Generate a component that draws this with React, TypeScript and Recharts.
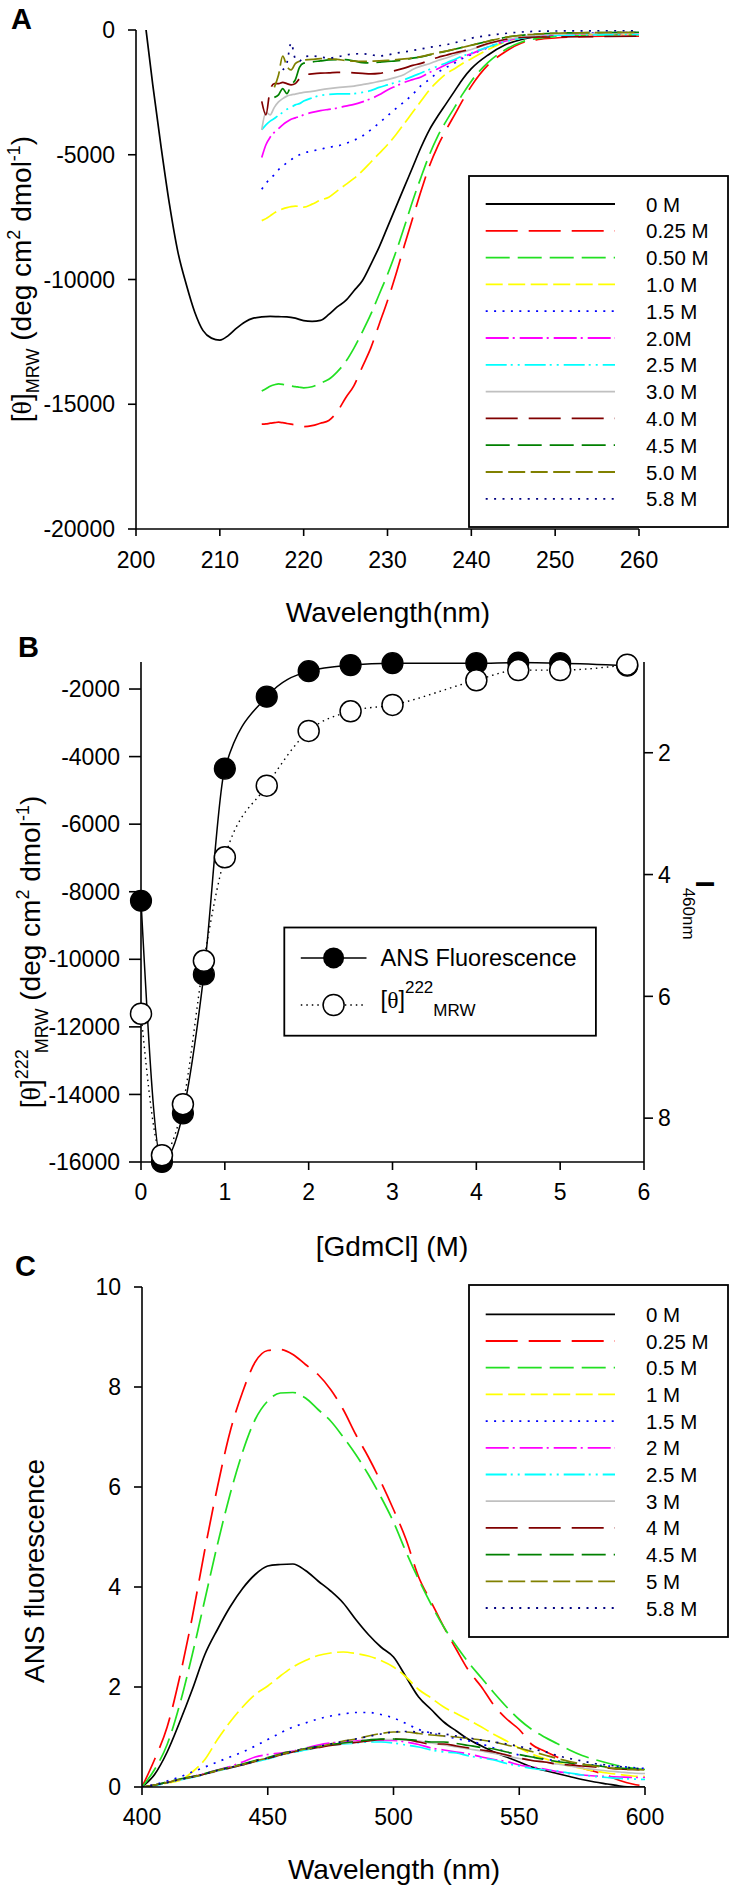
import { LineChart, Line, XAxis, YAxis, Label } from "recharts";

const FONT = "'Liberation Sans', Arial, Helvetica, sans-serif";
const SERIF = "'Liberation Serif', 'Times New Roman', serif";

// shared series styles (panels A and C)
const seriesColors = [
  "#000000", "#ff0000", "#22e022", "#ffff00", "#0000ff", "#ff00ff",
  "#00ffff", "#c0c0c0", "#800000", "#008000", "#808000", "#000080",
];
const seriesDash = [
  undefined, "32 11", "24 8", "17 5.5", "2 6.4", "23 4 2 5",
  "21 4 2 5 2 5", undefined, "32 11", "24 8", "17 5.5", "2 6.4",
];
const cdLabels = ["0 M", "0.25 M", "0.50 M", "1.0 M", "1.5 M", "2.0M", "2.5 M", "3.0 M", "4.0 M", "4.5 M", "5.0 M", "5.8 M"];
const flLabels = ["0 M", "0.25 M", "0.5 M", "1 M", "1.5 M", "2 M", "2.5 M", "3 M", "4 M", "4.5 M", "5 M", "5.8 M"];

// ---------- panel A: far-UV CD spectra
const wlCD0 = [201.2, 202, 203, 204, 205, 206, 207, 208, 209, 210, 211, 212, 213, 214, 215, 216, 217, 218, 219, 220,
  221, 222, 223, 224, 225, 226, 227, 228, 229, 230, 231, 232, 233, 234, 235, 236, 237, 238, 239, 240,
  242, 244, 246, 248, 250, 253, 256, 260];
const cd0 = [0, -2200, -4700, -7000, -8900, -10200, -11300, -12050, -12350, -12430, -12250, -11950, -11700, -11550, -11500, -11480, -11490, -11500, -11550, -11650,
  -11680, -11640, -11400, -11100, -10850, -10450, -10050, -9400, -8700, -7900, -7100, -6300, -5500, -4700, -4000, -3450, -2950, -2450, -1950, -1550,
  -1000, -600, -380, -260, -190, -160, -140, -130];

const wlCD = [215, 215.5, 216, 216.5, 217, 217.5, 218, 218.5, 219, 219.5, 220,
  221, 222, 223, 224, 225, 226, 227, 228, 229, 230, 231, 232, 233, 234, 235, 236, 237, 238, 239, 240,
  242, 244, 246, 248, 250, 253, 256, 260];
const cd025 = [-15800, -15790, -15760, -15740, -15720, -15740, -15770, -15800, -15830, -15870, -15900,
  -15860, -15760, -15650, -15300, -14750, -14250, -13500, -12750, -11800, -10850, -9800, -8650, -7550, -6450, -5450, -4650, -4000, -3400, -2800, -2250,
  -1400, -880, -520, -380, -320, -270, -250, -250];
const cd050 = [-14470, -14380, -14280, -14220, -14180, -14200, -14240, -14270, -14290, -14320, -14340,
  -14300, -14150, -14000, -13700, -13300, -12750, -12100, -11400, -10600, -9800, -8900, -7900, -6850, -5900, -5000, -4250, -3650, -3100, -2550, -2050,
  -1300, -800, -480, -330, -260, -220, -200, -190];
const cd1 = [-7640, -7560, -7450, -7330, -7230, -7170, -7120, -7080, -7060, -7070, -7100,
  -6980, -6820, -6700, -6450, -6200, -5950, -5650, -5300, -4950, -4600, -4200, -3750, -3300, -2850, -2400, -2050, -1750, -1550, -1330, -1150,
  -780, -480, -320, -230, -190, -160, -150, -140];
const cd15 = [-6380, -6150, -5950, -5800, -5600, -5450, -5320, -5200, -5080, -5000, -4930,
  -4850, -4780, -4700, -4650, -4550, -4420, -4250, -4000, -3730, -3440, -3150, -2880, -2580, -2230, -1980, -1700, -1500, -1320, -1130, -980,
  -700, -460, -300, -220, -170, -130, -110, -100];
const cd2 = [-5110, -4600, -4300, -4100, -3950, -3800, -3680, -3580, -3520, -3470, -3400,
  -3300, -3230, -3180, -3130, -3050, -2980, -2880, -2760, -2600, -2400, -2250, -2100, -1990, -1880, -1700, -1550, -1380, -1240, -1080, -950,
  -680, -450, -300, -220, -180, -150, -140, -130];
const cd25 = [-4000, -3800, -3650, -3550, -3420, -3300, -3180, -3100, -3000, -2950, -2850,
  -2720, -2620, -2580, -2560, -2560, -2550, -2500, -2430, -2300, -2200, -2100, -1990, -1860, -1720, -1580, -1450, -1320, -1180, -1040, -920,
  -680, -470, -330, -260, -220, -200, -190, -180];
const cd3 = [-4000, -3300, -3400, -3100, -2880, -2750, -2650, -2600, -2570, -2530, -2500,
  -2460, -2400, -2350, -2310, -2280, -2250, -2190, -2130, -2060, -1990, -1900, -1780, -1580, -1450, -1350, -1220, -1120, -1000, -880, -780,
  -570, -400, -280, -210, -170, -140, -130, -120];
const cd4 = [-2860, -3400, -2400, -2150, -2150, -2100, -2150, -2200, -2150, -1950, -1800,
  -1760, -1730, -1720, -1700, -1700, -1720, -1740, -1760, -1740, -1680, -1620, -1530, -1420, -1340, -1210, -1100, -1010, -920, -840, -760,
  -540, -380, -300, -280, -280, -270, -260, -250];
const cd45 = [null, null, null, -2700, -2600, -2350, -2550, -2200, -2000, -1500, -1330,
  -1280, -1240, -1200, -1190, -1190, -1240, -1310, -1320, -1290, -1260, -1240, -1200, -1130, -1080, -1000, -920, -850, -770, -690, -610,
  -450, -300, -210, -160, -130, -110, -100, -90];
const cd5 = [null, null, null, -2300, -1800, -1050, -1450, -1600, -1350, -1250, -1200,
  -1180, -1150, -1160, -1180, -1220, -1250, -1260, -1250, -1240, -1220, -1190, -1160, -1120, -1070, -990, -910, -850, -770, -690, -610,
  -450, -300, -210, -160, -130, -110, -100, -90];
const cd58 = [null, null, null, null, null, -1600, -1320, -520, -1150, -1250, -1080,
  -1040, -1080, -1120, -1080, -1000, -960, -950, -990, -1040, -1000, -930, -880, -820, -760, -700, -640, -590, -510, -430, -330,
  -220, -140, -80, -50, -40, -35, -30, -30];
const cdRest = [cd025, cd050, cd1, cd15, cd2, cd25, cd3, cd4, cd45, cd5, cd58];
const ticksA_x = [200, 210, 220, 230, 240, 250, 260];
const ticksA_y = [0, -5000, -10000, -15000, -20000];

// ---------- panel B: transition curves
const gdm = [0, 0.25, 0.5, 0.75, 1, 1.5, 2, 2.5, 3, 4, 4.5, 5, 5.8];
const ans460 = [4.43, 8.72, 7.92, 5.64, 2.26, 1.08, 0.66, 0.56, 0.53, 0.53, 0.52, 0.53, 0.57];
const theta222 = [-11610, -15800, -14290, -10045, -6980, -4860, -3240, -2660, -2470, -1740, -1440, -1440, -1280];
const ticksB_x = [0, 1, 2, 3, 4, 5, 6];
const ticksB_l = [-2000, -4000, -6000, -8000, -10000, -12000, -14000, -16000];
const ticksB_r = [2, 4, 6, 8];

// ---------- panel C: ANS fluorescence spectra
const wlFl = [400, 405, 410, 415, 420, 425, 430, 435, 440, 445, 450, 455, 460, 465, 470, 475, 480, 485, 490, 495,
  500, 505, 510, 515, 520, 525, 530, 535, 540, 545, 550, 555, 560, 565, 570, 575, 580, 585, 590, 595, 600];
const fl0 = [0, 0.25, 0.7, 1.3, 1.95, 2.65, 3.15, 3.6, 3.97, 4.25, 4.42, 4.45, 4.46, 4.33, 4.12, 3.92, 3.68, 3.35, 3.05, 2.8,
  2.6, 2.2, 1.8, 1.55, 1.3, 1.12, 0.95, 0.82, 0.7, 0.6, 0.5, 0.4, 0.33, 0.27, 0.21, 0.15, 0.1, 0.06, 0.02, 0, 0];
const fl025 = [0, 0.55, 1.2, 2.2, 3.4, 4.75, 6.0, 7.1, 7.9, 8.5, 8.73, 8.75, 8.65, 8.45, 8.25, 7.95, 7.55, 7.05, 6.6, 6.1,
  5.55, 4.95, 4.2, 3.7, 3.2, 2.75, 2.32, 2.0, 1.63, 1.36, 1.15, 0.85, 0.72, 0.6, 0.48, 0.38, 0.31, 0.23, 0.13, 0.06, 0.02];
const fl05 = [0, 0.35, 0.85, 1.65, 2.65, 3.75, 4.85, 5.85, 6.7, 7.35, 7.72, 7.88, 7.89, 7.78, 7.55, 7.32, 7.0, 6.65, 6.25, 5.8,
  5.3, 4.7, 4.15, 3.65, 3.2, 2.82, 2.48, 2.18, 1.88, 1.6, 1.35, 1.15, 1.0, 0.87, 0.74, 0.63, 0.55, 0.48, 0.42, 0.38, 0.35];
const fl1 = [0, 0.03, 0.08, 0.13, 0.3, 0.55, 0.95, 1.3, 1.6, 1.85, 2.02, 2.22, 2.4, 2.53, 2.63, 2.68, 2.7, 2.67, 2.62, 2.53,
  2.4, 2.2, 1.95, 1.78, 1.6, 1.47, 1.34, 1.2, 1.05, 0.92, 0.78, 0.66, 0.57, 0.49, 0.42, 0.37, 0.32, 0.28, 0.25, 0.22, 0.21];
const fl15 = [0, 0.05, 0.12, 0.2, 0.3, 0.4, 0.5, 0.6, 0.7, 0.82, 0.95, 1.08, 1.2, 1.28, 1.36, 1.42, 1.46, 1.49, 1.49, 1.45,
  1.38, 1.27, 1.15, 1.08, 1.02, 0.97, 0.92, 0.86, 0.78, 0.7, 0.64, 0.6, 0.56, 0.52, 0.49, 0.46, 0.44, 0.42, 0.41, 0.39, 0.37];
const fl2 = [0, 0.04, 0.09, 0.15, 0.21, 0.27, 0.34, 0.41, 0.5, 0.6, 0.65, 0.68, 0.72, 0.78, 0.84, 0.88, 0.9, 0.92, 0.94, 0.93,
  0.93, 0.9, 0.85, 0.78, 0.74, 0.7, 0.66, 0.6, 0.55, 0.51, 0.44, 0.4, 0.36, 0.31, 0.27, 0.24, 0.22, 0.21, 0.2, 0.19, 0.19];
const fl25 = [0, 0.03, 0.08, 0.14, 0.19, 0.25, 0.32, 0.38, 0.44, 0.5, 0.56, 0.63, 0.69, 0.74, 0.79, 0.83, 0.86, 0.88, 0.9, 0.9,
  0.88, 0.84, 0.8, 0.74, 0.7, 0.68, 0.62, 0.58, 0.54, 0.47, 0.42, 0.37, 0.34, 0.32, 0.28, 0.24, 0.21, 0.19, 0.17, 0.16, 0.15];
const fl3 = [0, 0.04, 0.09, 0.15, 0.2, 0.26, 0.33, 0.39, 0.45, 0.52, 0.58, 0.65, 0.71, 0.76, 0.8, 0.84, 0.87, 0.9, 0.93, 0.95,
  0.95, 0.94, 0.92, 0.88, 0.84, 0.8, 0.76, 0.72, 0.67, 0.62, 0.57, 0.53, 0.5, 0.46, 0.42, 0.38, 0.35, 0.32, 0.3, 0.28, 0.27];
const fl4 = [0, 0.04, 0.09, 0.15, 0.2, 0.26, 0.32, 0.38, 0.44, 0.51, 0.57, 0.64, 0.7, 0.75, 0.79, 0.83, 0.86, 0.89, 0.92, 0.95,
  0.96, 0.95, 0.9, 0.86, 0.86, 0.82, 0.78, 0.74, 0.7, 0.64, 0.58, 0.53, 0.5, 0.46, 0.44, 0.42, 0.4, 0.38, 0.36, 0.35, 0.34];
const fl45 = [0, 0.04, 0.1, 0.16, 0.21, 0.27, 0.34, 0.4, 0.46, 0.53, 0.59, 0.66, 0.72, 0.77, 0.81, 0.85, 0.88, 0.91, 0.94, 0.96,
  0.96, 0.95, 0.93, 0.9, 0.9, 0.87, 0.83, 0.79, 0.76, 0.7, 0.65, 0.6, 0.55, 0.51, 0.48, 0.45, 0.43, 0.4, 0.38, 0.36, 0.34];
const fl5 = [0, 0.04, 0.09, 0.15, 0.2, 0.26, 0.33, 0.39, 0.45, 0.52, 0.58, 0.65, 0.71, 0.76, 0.8, 0.86, 0.92, 0.96, 1.02, 1.07,
  1.1, 1.1, 1.07, 1.04, 1.02, 1.0, 0.97, 0.94, 0.9, 0.84, 0.78, 0.71, 0.64, 0.57, 0.51, 0.46, 0.42, 0.39, 0.36, 0.35, 0.34];
const fl58 = [0, 0.04, 0.09, 0.15, 0.2, 0.26, 0.33, 0.39, 0.45, 0.52, 0.58, 0.65, 0.71, 0.76, 0.81, 0.86, 0.91, 0.96, 1.01, 1.06,
  1.1, 1.11, 1.1, 1.08, 1.06, 1.02, 0.98, 0.94, 0.9, 0.86, 0.81, 0.76, 0.71, 0.63, 0.57, 0.52, 0.47, 0.44, 0.41, 0.38, 0.36];
const flSeries = [fl0, fl025, fl05, fl1, fl15, fl2, fl25, fl3, fl4, fl45, fl5, fl58];
const ticksC_x = [400, 450, 500, 550, 600];
const ticksC_y = [0, 2, 4, 6, 8, 10];

const pts = (xs: number[], ys: (number | null)[]) => xs.map((x, i) => ({ x, y: ys[i] }));

const tickFont = { fontSize: 23, fill: "#000", fontFamily: FONT };
const axisStroke = { stroke: "#000", strokeWidth: 1.6 };
const LW = 1.7;

function PanelA() {
  return (
    <LineChart width={733} height={630} margin={{ top: 30, right: 94, bottom: 0, left: 0 }}>
      <XAxis xAxisId="b" type="number" dataKey="x" domain={[200, 260]} ticks={ticksA_x} allowDataOverflow
        height={101} tickSize={7} tickMargin={16} tick={tickFont} axisLine={axisStroke} tickLine={axisStroke}>
        <Label content={() => (
          <text x={388} y={622} textAnchor="middle" fontFamily={FONT} fontSize={28}>Wavelength(nm)</text>
        )} />
      </XAxis>
      <XAxis xAxisId="t" orientation="top" type="number" dataKey="x" domain={[200, 260]} height={0}
        tick={false} tickLine={false} axisLine={axisStroke} />
      <YAxis yAxisId="l" type="number" domain={[-20000, 0]} ticks={ticksA_y} allowDataOverflow width={136}
        tickSize={8} tickMargin={13} tick={tickFont} axisLine={axisStroke} tickLine={axisStroke}>
        <Label content={() => (
          <text transform="translate(31,279) rotate(-90)" textAnchor="middle" fontFamily={FONT} fontSize={28}>
            [<tspan fontFamily={SERIF}>θ</tspan>]<tspan fontSize={18} dy={8}>MRW</tspan>
            <tspan dy={-8}>{" (deg cm"}</tspan><tspan fontSize={18} dy={-11}>2</tspan>
            <tspan dy={11}>{" dmol"}</tspan><tspan fontSize={18} dy={-11}>-1</tspan><tspan dy={11}>)</tspan>
          </text>
        )} />
      </YAxis>
      <YAxis yAxisId="r" orientation="right" type="number" domain={[-20000, 0]} width={0}
        tick={false} tickLine={false} axisLine={axisStroke} />
      <Line xAxisId="b" yAxisId="l" data={pts(wlCD0, cd0)} dataKey="y" type="monotone" stroke={seriesColors[0]}
        strokeWidth={LW} dot={false} activeDot={false} isAnimationActive={false} />
      {cdRest.map((s, i) => (
        <Line key={cdLabels[i + 1]} xAxisId="b" yAxisId="l" data={pts(wlCD, s)} dataKey="y" type="monotone"
          stroke={seriesColors[i + 1]} strokeDasharray={seriesDash[i + 1]} strokeWidth={LW}
          dot={false} activeDot={false} isAnimationActive={false} />
      ))}
    </LineChart>
  );
}

function PanelB() {
  return (
    <LineChart width={733} height={640} margin={{ top: 32, right: 0, bottom: 0, left: 0 }}>
      <XAxis xAxisId="b" type="number" dataKey="x" domain={[0, 6]} ticks={ticksB_x}
        height={108} tickSize={8} tickMargin={14} tick={tickFont} axisLine={axisStroke} tickLine={axisStroke}>
        <Label content={() => (
          <text x={392} y={626} textAnchor="middle" fontFamily={FONT} fontSize={28}>[GdmCl] (M)</text>
        )} />
      </XAxis>
      <XAxis xAxisId="t" orientation="top" type="number" dataKey="x" domain={[0, 6]} height={0}
        tick={false} tickLine={false} axisLine={axisStroke} />
      <YAxis yAxisId="l" type="number" domain={[-16000, -1200]} ticks={ticksB_l} width={141}
        tickSize={12} tickMargin={9} tick={tickFont} axisLine={axisStroke} tickLine={axisStroke}>
        <Label content={() => (
          <text transform="translate(40,322) rotate(-90)" textAnchor="middle" fontFamily={FONT} fontSize={28}>
            [<tspan fontFamily={SERIF}>θ</tspan>]<tspan fontSize={18} dy={-12}>222</tspan>
            <tspan fontSize={18} dx={-4} dy={20}>MRW</tspan>
            <tspan dy={-8}>{" (deg cm"}</tspan><tspan fontSize={18} dy={-11}>2</tspan>
            <tspan dy={11}>{" dmol"}</tspan><tspan fontSize={18} dy={-11}>-1</tspan><tspan dy={11}>)</tspan>
          </text>
        )} />
      </YAxis>
      <YAxis yAxisId="r" orientation="right" type="number" domain={[0.51, 8.72]} reversed ticks={ticksB_r} width={89}
        tickSize={9} tickMargin={5} tick={tickFont} axisLine={axisStroke} tickLine={axisStroke}>
        <Label content={() => (
          <text transform="translate(696,280) rotate(90)" textAnchor="middle" fontFamily={FONT} fontSize={26}>
            <tspan fontWeight="bold">I</tspan><tspan fontSize={17} dy={13}>460nm</tspan>
          </text>
        )} />
      </YAxis>
      <Line xAxisId="b" yAxisId="r" data={pts(gdm, ans460)} dataKey="y" type="monotone" stroke="#000"
        strokeWidth={1.5} dot={{ r: 10.5, fill: "#000", stroke: "#000", strokeWidth: 1.2 }} activeDot={false}
        isAnimationActive={false} />
      <Line xAxisId="b" yAxisId="l" data={pts(gdm, theta222)} dataKey="y" type="monotone" stroke="#000"
        strokeWidth={1.4} strokeDasharray="1.5 4" dot={{ r: 10.5, fill: "#fff", stroke: "#000", strokeWidth: 1.5, strokeDasharray: "0" }}
        activeDot={false} isAnimationActive={false} />
    </LineChart>
  );
}

function PanelC() {
  return (
    <LineChart width={733} height={619} margin={{ top: 17, right: 88, bottom: 0, left: 0 }}>
      <XAxis xAxisId="b" type="number" dataKey="x" domain={[400, 600]} ticks={ticksC_x} allowDataOverflow
        height={102} tickSize={8} tickMargin={14} tick={tickFont} axisLine={axisStroke} tickLine={axisStroke}>
        <Label content={() => (
          <text x={394} y={609} textAnchor="middle" fontFamily={FONT} fontSize={28}>Wavelength (nm)</text>
        )} />
      </XAxis>
      <XAxis xAxisId="t" orientation="top" type="number" dataKey="x" domain={[400, 600]} height={0}
        tick={false} tickLine={false} axisLine={axisStroke} />
      <YAxis yAxisId="l" type="number" domain={[0, 10]} ticks={ticksC_y} allowDataOverflow width={142}
        tickSize={8} tickMargin={13} tick={tickFont} axisLine={axisStroke} tickLine={axisStroke}>
        <Label content={() => (
          <text transform="translate(44,301) rotate(-90)" textAnchor="middle" fontFamily={FONT} fontSize={28}>
            ANS fluorescence
          </text>
        )} />
      </YAxis>
      <YAxis yAxisId="r" orientation="right" type="number" domain={[0, 10]} width={0}
        tick={false} tickLine={false} axisLine={axisStroke} />
      {flSeries.map((s, i) => (
        <Line key={flLabels[i]} xAxisId="b" yAxisId="l" data={pts(wlFl, s)} dataKey="y" type="monotone"
          stroke={seriesColors[i]} strokeDasharray={seriesDash[i]} strokeWidth={LW}
          dot={false} activeDot={false} isAnimationActive={false} />
      ))}
    </LineChart>
  );
}

function SeriesLegend({ x, y, w, h, row0, step, labels }: { x: number; y: number; w: number; h: number; row0: number; step: number; labels: string[] }) {
  return (
    <g>
      <rect x={x} y={y} width={w} height={h} fill="#fff" stroke="#000" strokeWidth={1.8} />
      {labels.map((lab, i) => {
        const cy = row0 + i * step;
        return (
          <g key={lab}>
            <line x1={485.7} x2={615} y1={cy} y2={cy} stroke={seriesColors[i]} strokeWidth={1.8}
              strokeDasharray={seriesDash[i]} />
            <text x={646} y={cy} dominantBaseline="central" fontFamily={FONT} fontSize={20.5}>{lab}</text>
          </g>
        );
      })}
    </g>
  );
}

function Overlay() {
  return (
    <svg width={733} height={1889} style={{ position: "absolute", left: 0, top: 0, pointerEvents: "none" }}>
      <text x={11} y={29} fontFamily={FONT} fontSize={29} fontWeight="bold">A</text>
      <text x={18} y={657} fontFamily={FONT} fontSize={29} fontWeight="bold">B</text>
      <text x={15} y={1276} fontFamily={FONT} fontSize={29} fontWeight="bold">C</text>

      <SeriesLegend x={469} y={176} w={259} h={351} row0={204} step={26.8} labels={cdLabels} />
      <SeriesLegend x={469} y={1285} w={259} h={352} row0={1314.3} step={26.7} labels={flLabels} />

      <g>
        <rect x={284.3} y={927.5} width={311.6} height={108.2} fill="#fff" stroke="#000" strokeWidth={1.8} />
        <line x1={300.8} x2={366.5} y1={957.9} y2={957.9} stroke="#000" strokeWidth={1.5} />
        <circle cx={333.6} cy={957.9} r={10.5} fill="#000" />
        <text x={380.6} y={966} fontFamily={FONT} fontSize={23.5}>ANS Fluorescence</text>
        <line x1={300.8} x2={366.5} y1={1005} y2={1005} stroke="#000" strokeWidth={1.4} strokeDasharray="1.5 4" />
        <circle cx={333.6} cy={1005} r={10.5} fill="#fff" stroke="#000" strokeWidth={1.5} />
        <text x={380.6} y={1008} fontFamily={FONT} fontSize={23.5}>
          [<tspan fontFamily={SERIF}>θ</tspan>]<tspan fontSize={17} dy={-15}>222</tspan>
          <tspan fontSize={17} dy={23}>MRW</tspan>
        </text>
      </g>
    </svg>
  );
}

export default function App() {
  return (
    <div style={{ position: "absolute", left: 0, top: 0, width: 733, height: 1889, background: "#fff", fontFamily: FONT }}>
      <div style={{ position: "absolute", left: 0, top: 0 }}><PanelA /></div>
      <div style={{ position: "absolute", left: 0, top: 630 }}><PanelB /></div>
      <div style={{ position: "absolute", left: 0, top: 1270 }}><PanelC /></div>
      <Overlay />
    </div>
  );
}
